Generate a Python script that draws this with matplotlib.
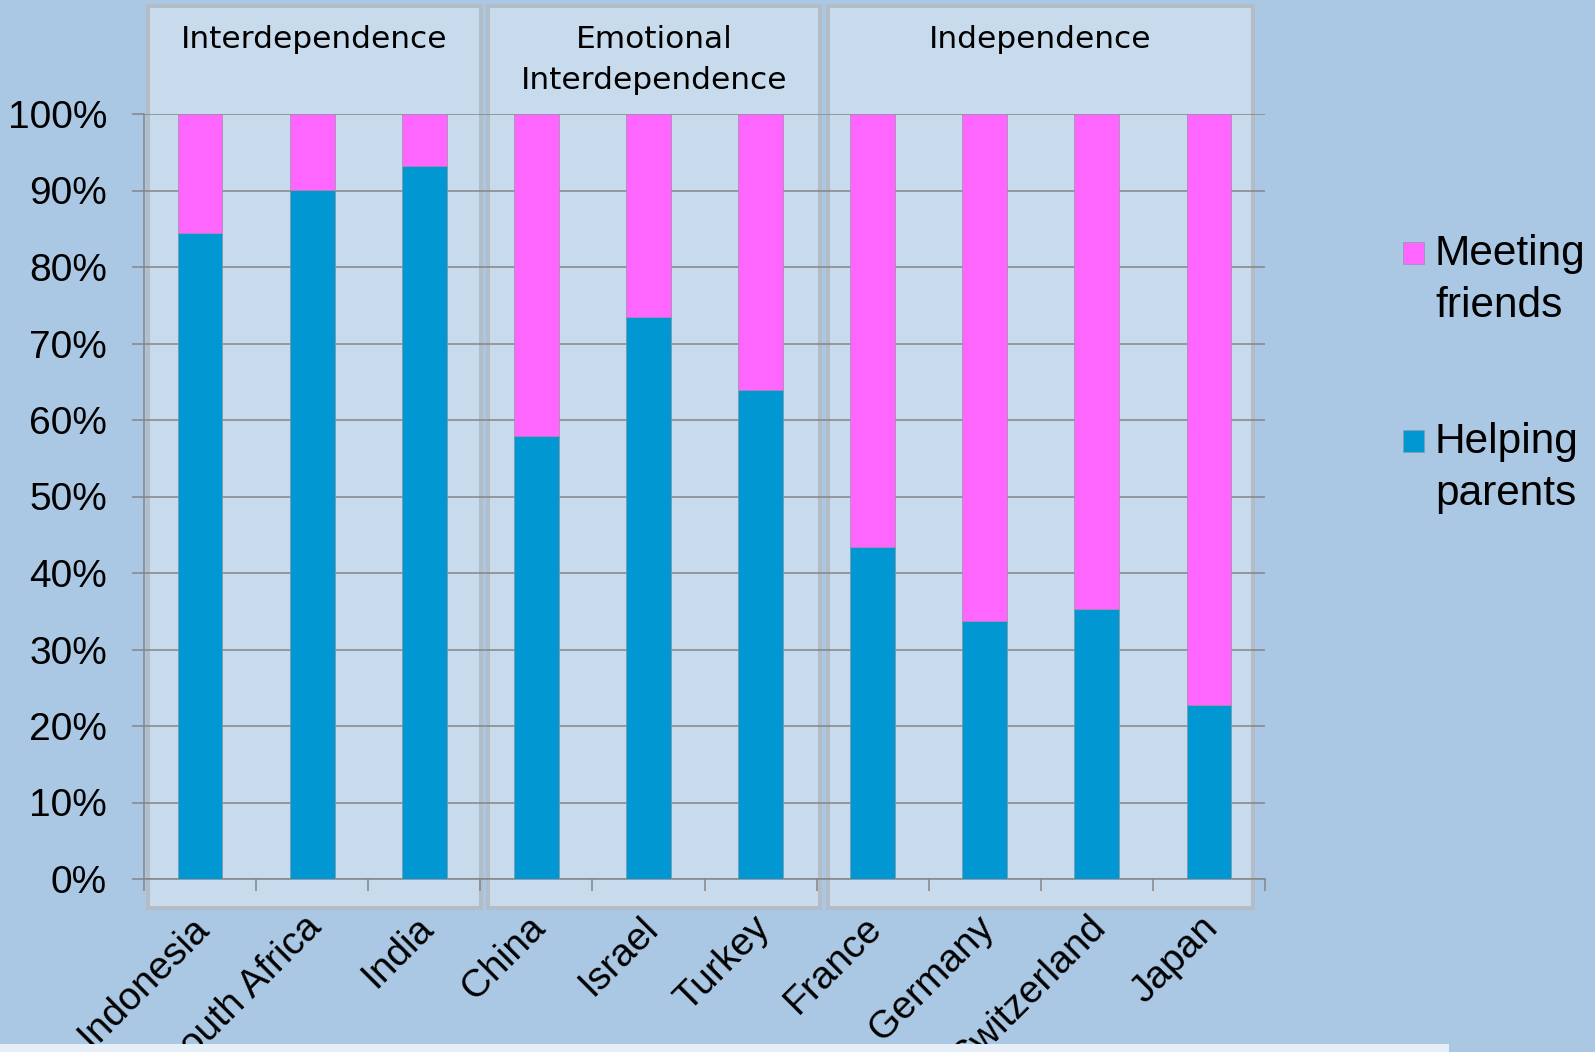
import matplotlib
matplotlib.use("Agg")
import matplotlib.pyplot as plt
from matplotlib.patches import Rectangle
from matplotlib.transforms import ScaledTranslation
import numpy as np

countries = ["Indonesia", "South Africa", "India", "China", "Israel", "Turkey",
             "France", "Germany", "Switzerland", "Japan"]
helping_parents = [84.4, 90.1, 93.2, 57.9, 73.5, 63.9, 43.4, 33.7, 35.3, 22.8]
meeting_friends = [100 - v for v in helping_parents]
groups = ["Interdependence", "Emotional\nInterdependence", "Independence"]
series_names = ["Meeting\nfriends", "Helping\nparents"]
y_ticks = [0, 10, 20, 30, 40, 50, 60, 70, 80, 90, 100]
y_tick_labels = [f"{t}%" for t in y_ticks]

BG = "#aac8e4"
PANEL = "#c8dbec"
PANEL_EDGE = "#b3bdc7"
PINK = "#ff66ff"
BLUE = "#0097d3"
GRID = "#858585"

W, H = 1595, 1052
fig = plt.figure(figsize=(W / 100, H / 100), dpi=100, facecolor=BG)

def fx(px):
    return px / W

def fy(py):
    return 1 - py / H

def multiline(xp, y_first_baseline, text, step, **kw):
    for i, line in enumerate(text.split("\n")):
        fig.text(fx(xp), fy(y_first_baseline + i * step), line, va="baseline", **kw)

# group panels (decoration)
panels = [(148, 481), (488, 820), (828, 1253)]
ptop, pbot = 6, 908
for (x0, x1), title in zip(panels, groups):
    fig.patches.append(Rectangle((fx(x0), fy(pbot)), fx(x1) - fx(x0), fy(ptop) - fy(pbot),
                                 transform=fig.transFigure, facecolor=PANEL,
                                 edgecolor=PANEL_EDGE, linewidth=2.9, zorder=-5))
    multiline((x0 + x1) / 2, 48, title, 41, ha="center", fontsize=22.5,
              family="DejaVu Sans", color="black")

ax = fig.add_axes([fx(144), fy(879), fx(1265) - fx(144), fy(114) - fy(879)])
ax.set_facecolor("none")
x = np.arange(len(countries))
ax.bar(x, helping_parents, width=0.4, color=BLUE, edgecolor="#7f95a6",
       linewidth=0.5, zorder=3)
ax.bar(x, meeting_friends, width=0.4, bottom=helping_parents, color=PINK,
       edgecolor="#a08aa6", linewidth=0.5, zorder=3)
ax.set_xlim(-0.5, len(countries) - 0.5)
ax.set_ylim(0, 100)

ax.set_yticks(y_ticks)
ax.set_yticklabels(y_tick_labels, family="Liberation Sans", fontsize=28)
ax.yaxis.grid(True, color=GRID, linewidth=1.1)
ax.set_axisbelow(True)
ax.tick_params(axis="y", length=8.6, width=1.1, color=GRID, pad=18)

ax.set_xticks(np.arange(len(countries) + 1) - 0.5)
ax.set_xticklabels([])
ax.tick_params(axis="x", which="major", length=8.6, width=1.1, color=GRID)
ax.set_xticks(x, minor=True)
ax.set_xticklabels(countries, minor=True, family="Liberation Sans", fontsize=28,
                   rotation=45, ha="right", va="top", rotation_mode="anchor")
ax.tick_params(axis="x", which="minor", length=0, pad=22)
for lab in ax.get_xticklabels(minor=True):
    lab.set_transform(lab.get_transform() + ScaledTranslation(-9 / 100, 0, fig.dpi_scale_trans))

for s in ["top", "right"]:
    ax.spines[s].set_visible(False)
for s in ["left", "bottom"]:
    ax.spines[s].set_color(GRID)
    ax.spines[s].set_linewidth(1.1)

# legend (drawn manually so the swatch aligns with the first line)
for (ys, yb), name, col in zip([(242, 265), (430, 453)], series_names, [PINK, BLUE]):
    fig.patches.append(Rectangle((fx(1403), fy(ys + 22)), fx(21), 22 / H,
                                 transform=fig.transFigure, facecolor=col,
                                 edgecolor="#8a9aa8", linewidth=0.5, zorder=5))
    multiline(1435, yb, name, 52, ha="left", fontsize=30.5,
              family="Liberation Sans", color="black")

# light strip at the bottom
fig.patches.append(Rectangle((0, 0), fx(1449), 8 / H, transform=fig.transFigure,
                             facecolor="#e6eef7", edgecolor="none", zorder=20))

fig.savefig("out.png", dpi=100, facecolor=BG)
